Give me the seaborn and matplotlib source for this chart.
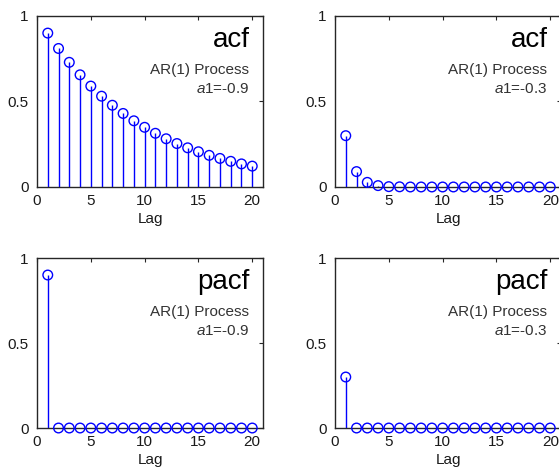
import numpy as np
import pandas as pd
import matplotlib
matplotlib.use("Agg")
import matplotlib.pyplot as plt
import seaborn as sns

# Autocorrelation / partial autocorrelation of AR(1) processes, lags 1..20
lags = list(range(1, 21))
acf_09 = [0.900, 0.810, 0.729, 0.656, 0.590, 0.531, 0.478, 0.430, 0.387, 0.349,
          0.314, 0.282, 0.254, 0.229, 0.206, 0.185, 0.167, 0.150, 0.135, 0.122]
acf_03 = [0.300, 0.090, 0.027, 0.008, 0.002, 0.001, 0.000, 0.000, 0.000, 0.000,
          0.000, 0.000, 0.000, 0.000, 0.000, 0.000, 0.000, 0.000, 0.000, 0.000]
pacf_09 = [0.900] + [0.0] * 19
pacf_03 = [0.300] + [0.0] * 19

panels = [
    ("acf", "-0.9", acf_09),
    ("acf", "-0.3", acf_03),
    ("pacf", "-0.9", pacf_09),
    ("pacf", "-0.3", pacf_03),
]

x_ticks = [0, 5, 10, 15, 20]
y_ticks = [0, 0.5, 1]
y_tick_labels = ["0", "0.5", "1"]

sns.set_theme(style="white")
plt.rcParams["font.family"] = ["Liberation Sans", "DejaVu Sans"]
plt.rcParams["mathtext.fontset"] = "custom"
plt.rcParams["mathtext.it"] = "Liberation Sans:italic"
plt.rcParams["mathtext.rm"] = "Liberation Sans"

fig = plt.figure(figsize=(5.59, 4.73), dpi=100)

# axes rectangles in figure fractions: left, bottom, width, height
rects = [
    (0.0662, 0.6047, 0.4043, 0.3615),
    (0.5993, 0.6047, 0.4043, 0.3615),
    (0.0662, 0.0951, 0.4043, 0.3594),
    (0.5993, 0.0951, 0.4043, 0.3594),
]

blue = "#0000ff"
dark = "#262626"
label_col = "#1a1a1a"

for (kind, a1, vals), rect in zip(panels, rects):
    ax = fig.add_axes(rect)
    df = pd.DataFrame({"Lag": lags, "value": vals})
    ax.vlines(df["Lag"], 0, df["value"], colors=blue, linewidth=1.0, zorder=2)
    sns.scatterplot(data=df, x="Lag", y="value", ax=ax, marker="o", s=48,
                    facecolor="none", edgecolor=blue, linewidth=1.0,
                    zorder=3, clip_on=False, legend=False)
    ax.set_xlim(0, 21)
    ax.set_ylim(0, 1)
    ax.set_xticks(x_ticks)
    ax.set_yticks(y_ticks)
    ax.set_yticklabels(y_tick_labels)
    ax.tick_params(direction="in", top=True, right=True, length=3, width=0.8,
                   color=dark, labelsize=11, labelcolor=label_col)
    ax.tick_params(axis="x", pad=5)
    ax.tick_params(axis="y", pad=6)
    ax.set_xlabel("Lag", fontsize=11, color=label_col, labelpad=3)
    ax.set_ylabel("")
    for sp in ax.spines.values():
        sp.set_color(dark)
        sp.set_linewidth(1.0)
    ax.text(0.94, 0.86, kind, transform=ax.transAxes, ha="right", va="center",
            fontsize=20, color="black")
    ax.text(0.94, 0.684, "AR(1) Process", transform=ax.transAxes, ha="right",
            va="center", fontsize=11, color="#333333")
    ax.text(0.94, 0.573, r"$a1$" + "=" + a1, transform=ax.transAxes,
            ha="right", va="center", fontsize=11, color="#333333")

fig.savefig("out.png", dpi=100)
